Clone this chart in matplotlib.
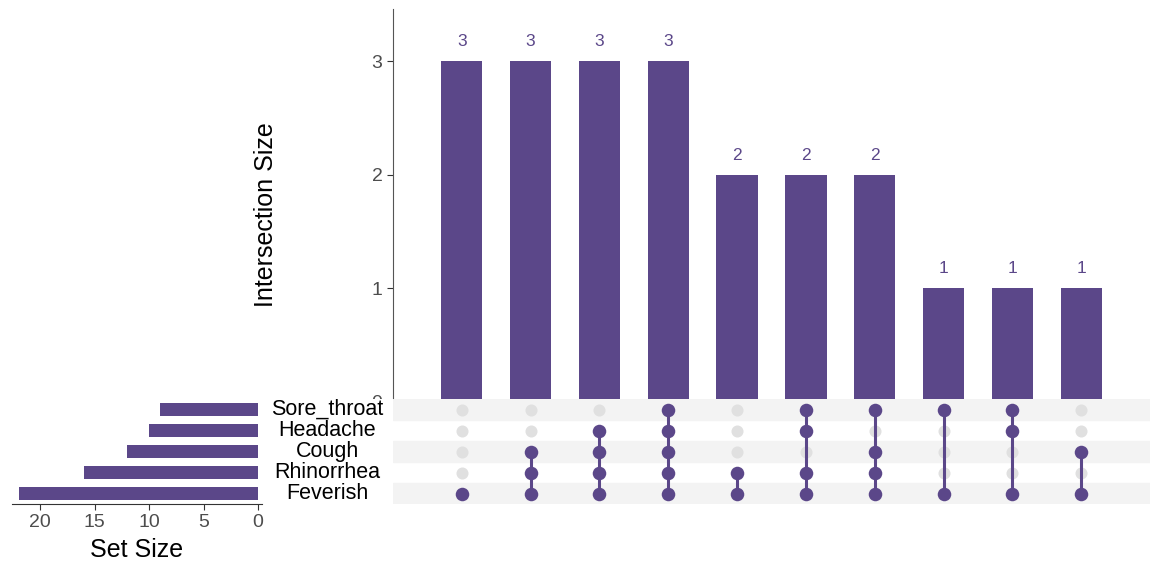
import matplotlib
matplotlib.use("Agg")
import matplotlib.pyplot as plt
import numpy as np

plt.rcParams['font.family'] = ['Liberation Sans', 'DejaVu Sans']

# sets listed top to bottom as in the matrix
set_names = ['Sore_throat', 'Headache', 'Cough', 'Rhinorrhea', 'Feverish']
set_sizes = [9, 10, 12, 16, 22]

intersection_sizes = [3, 3, 3, 3, 2, 2, 2, 1, 1, 1]
memberships = [
    ['Feverish'],
    ['Feverish', 'Rhinorrhea', 'Cough'],
    ['Feverish', 'Rhinorrhea', 'Cough', 'Headache'],
    ['Feverish', 'Rhinorrhea', 'Cough', 'Headache', 'Sore_throat'],
    ['Feverish', 'Rhinorrhea'],
    ['Feverish', 'Rhinorrhea', 'Headache', 'Sore_throat'],
    ['Feverish', 'Rhinorrhea', 'Cough', 'Sore_throat'],
    ['Feverish', 'Sore_throat'],
    ['Feverish', 'Headache', 'Sore_throat'],
    ['Feverish', 'Cough'],
]

purple = '#5b4789'
dot_grey = '#e0e0e0'
stripe = '#f3f3f3'
tick_col = '#4d4d4d'

W, H = 1154, 567
fig = plt.figure(figsize=(W / 100, H / 100), dpi=100)


def px(l, t, r, b):
    return [l / W, 1 - b / H, (r - l) / W, (b - t) / H]


n_cols = len(intersection_sizes)
n_rows = len(set_names)
xs = np.arange(n_cols)
row_y = {name: n_rows - 1 - i for i, name in enumerate(set_names)}

# intersection size bars
ax = fig.add_axes(px(393, 9, 1150, 402))
ax.bar(xs, intersection_sizes, width=0.6, color=purple)
for x, v in zip(xs, intersection_sizes):
    ax.annotate(str(v), (x, v), xytext=(0, 14), textcoords='offset points',
                ha='center', va='center', color=purple, fontsize=12.5)
ax.set_xlim(-1, n_cols)
ax.set_ylim(0, 3.46)
ax.set_yticks([0, 1, 2, 3])
ax.tick_params(axis='y', colors='#333333', labelcolor=tick_col, labelsize=14, length=4)
ax.set_xticks([])
for s in ['top', 'right', 'bottom']:
    ax.spines[s].set_visible(False)
ax.spines['left'].set_color('#555555')
ax.set_ylabel('Intersection Size', fontsize=18)
ax.yaxis.set_label_coords(-0.152, 0.478)

# matrix
mx = fig.add_axes(px(393, 399, 1150, 504))
mx.set_xlim(-1, n_cols)
mx.set_ylim(-0.5, n_rows - 0.5)
for i, name in enumerate(set_names):
    if i % 2 == 0:
        mx.axhspan(row_y[name] - 0.5, row_y[name] + 0.5, color=stripe, zorder=0)
for x, members in zip(xs, memberships):
    ys = [row_y[m] for m in members]
    inactive = [row_y[n] for n in set_names if n not in members]
    mx.scatter([x] * len(inactive), inactive, s=75, color=dot_grey, zorder=2, linewidths=0)
    mx.plot([x, x], [min(ys), max(ys)], color=purple, lw=2.2, zorder=3)
    mx.scatter([x] * len(ys), ys, s=95, color=purple, zorder=4, linewidths=0)
mx.axis('off')

# set names
lx = fig.add_axes(px(262, 399, 393, 504))
lx.set_xlim(0, 1)
lx.set_ylim(-0.5, n_rows - 0.5)
lx.set_facecolor('white')
for name in set_names:
    lx.text(0.5, row_y[name], name, ha='center', va='center', fontsize=15.5)
lx.set_xticks([])
lx.set_yticks([])
for s in lx.spines.values():
    s.set_visible(False)

# set size bars
sx = fig.add_axes(px(12, 399, 262, 504))
sx.barh([row_y[n] for n in set_names], set_sizes, height=0.58, color=purple)
sx.set_xlim(22.6, -0.35)
sx.set_ylim(-0.5, n_rows - 0.5)
sx.set_xticks([20, 15, 10, 5, 0])
sx.set_yticks([])
sx.tick_params(axis='x', colors='#333333', labelcolor=tick_col, labelsize=14, length=4)
for s in ['top', 'right', 'left']:
    sx.spines[s].set_visible(False)
sx.spines['bottom'].set_color('#333333')
sx.set_xlabel('Set Size', fontsize=18, labelpad=5)

fig.savefig('out.png', dpi=100)
